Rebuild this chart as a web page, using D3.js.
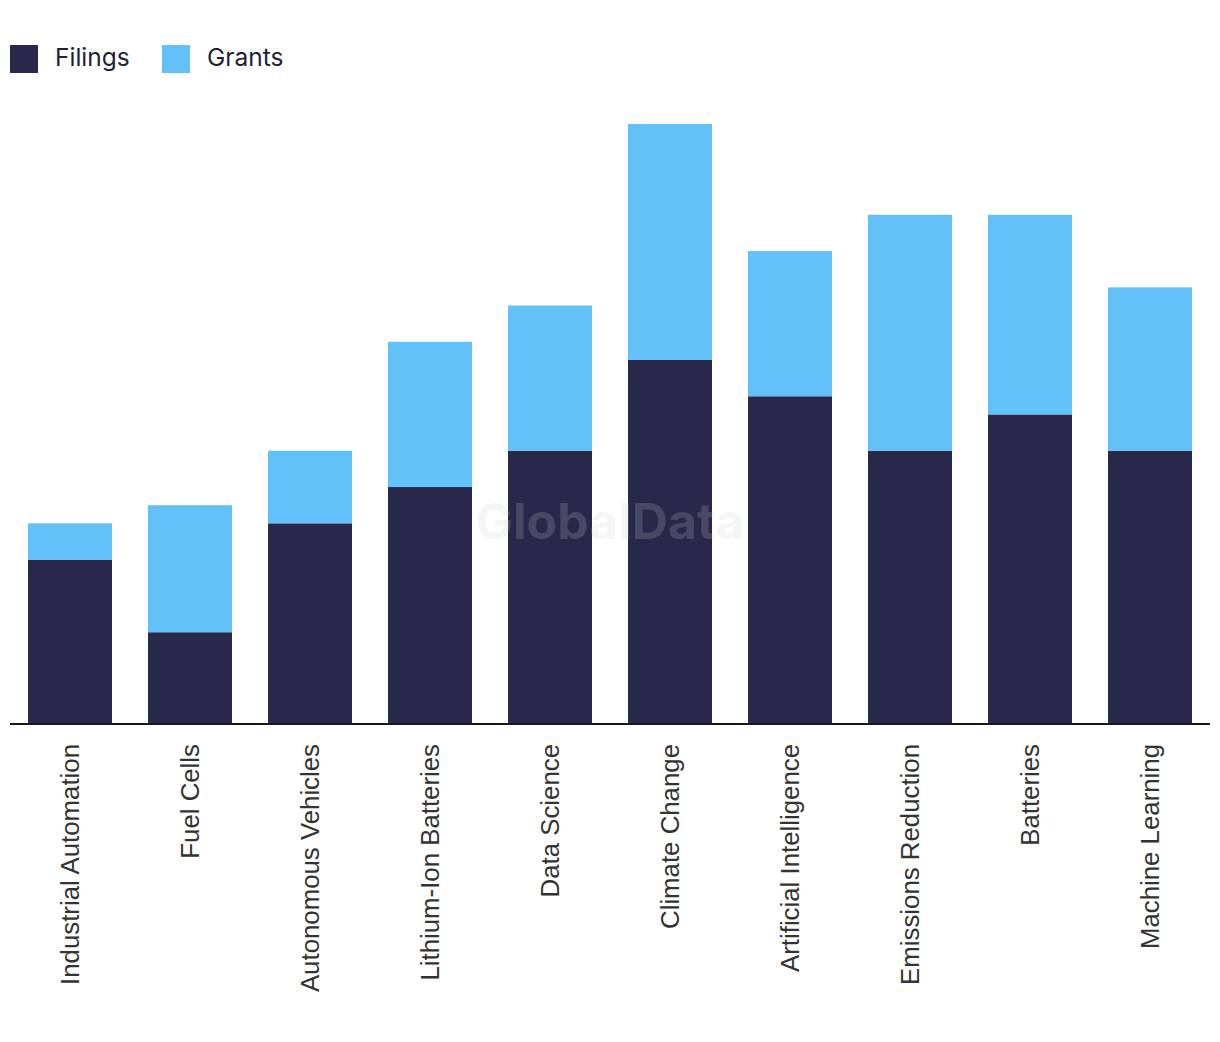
<!DOCTYPE html>
<html>
<head>
<meta charset="utf-8">
<script src="https://cdn.jsdelivr.net/npm/d3@7"></script>
<style>
  html, body { margin: 0; padding: 0; background: #fff; }
  svg { display: block; }
</style>
</head>
<body>
<svg id="chart" width="1220" height="1042"></svg>
<script>
const categories = ["Industrial Automation", "Fuel Cells", "Autonomous Vehicles", "Lithium-Ion Batteries", "Data Science", "Climate Change", "Artificial Intelligence", "Emissions Reduction", "Batteries", "Machine Learning"];
const filings = [9, 5, 11, 13, 15, 20, 18, 15, 17, 15];
const grants = [2, 7, 4, 8, 8, 13, 8, 13, 11, 9];
const seriesNames = ["Filings", "Grants"];
const seriesColors = ["#27284a", "#62c1f9"];

const svg = d3.select("#chart");
const rows = categories.map((c, i) => ({ category: c, Filings: filings[i], Grants: grants[i] }));
const stacked = d3.stack().keys(seriesNames)(rows);

const x = d3.scaleBand().domain(categories).range([10, 1210]).paddingInner(0.3).paddingOuter(0.15);
const y = d3.scaleLinear().domain([0, 33]).range([723, 124]);
const color = d3.scaleOrdinal().domain(seriesNames).range(seriesColors);

svg.append("g").selectAll("g").data(stacked).join("g")
  .attr("fill", d => color(d.key))
  .selectAll("rect").data(d => d).join("rect")
  .attr("x", d => x(d.data.category))
  .attr("width", x.bandwidth())
  .attr("y", d => y(d[1]))
  .attr("height", d => y(d[0]) - y(d[1]));

// watermark
svg.append("text")
  .attr("x", 610).attr("y", 539)
  .attr("text-anchor", "middle")
  .attr("font-family", "Inter, 'Liberation Sans', sans-serif")
  .attr("font-weight", 700)
  .attr("font-size", 50)
  .attr("fill", "#cccccc")
  .attr("fill-opacity", 0.2)
  .text("GlobalData");

// x axis
const xAxis = svg.append("g").attr("transform", "translate(0,724)")
  .call(d3.axisBottom(x).tickSize(0).tickPadding(0));
xAxis.select(".domain").attr("d", "M10,0H1210").attr("stroke", "#15152a").attr("stroke-width", 2);
xAxis.selectAll(".tick text")
  .attr("transform", "rotate(-90)")
  .attr("x", -20).attr("y", 0).attr("dy", "0.35em")
  .attr("text-anchor", "end")
  .attr("font-family", "'Liberation Sans', Arial, sans-serif")
  .attr("font-size", 25.8)
  .attr("fill", "#333333");

// legend
const legend = svg.append("g").selectAll("g").data(seriesNames).join("g")
  .attr("transform", (d, i) => `translate(${[10, 162][i]},45)`);
legend.append("rect").attr("width", 28).attr("height", 28).attr("fill", d => color(d));
legend.append("text").attr("x", 45).attr("y", 21)
  .attr("font-family", "Inter, 'Liberation Sans', sans-serif")
  .attr("font-size", 24.5)
  .attr("fill", "#1e1f36")
  .text(d => d);
</script>
</body>
</html>
